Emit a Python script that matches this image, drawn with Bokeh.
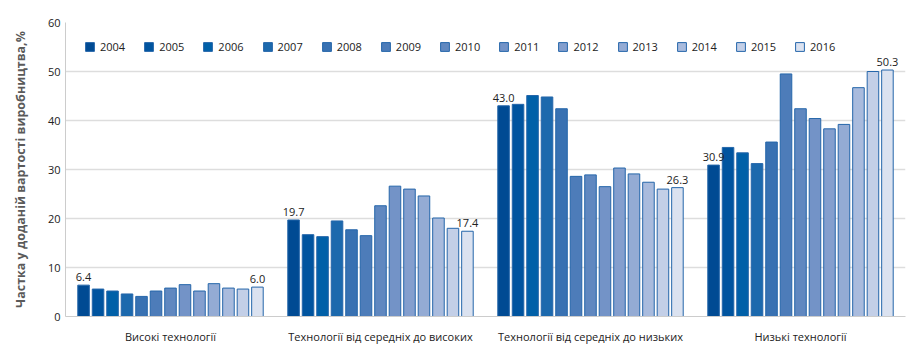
from bokeh.plotting import figure
from bokeh.models import Legend, LegendItem, FixedTicker, ColumnDataSource, Range1d
from bokeh.embed import file_html
from bokeh.resources import INLINE
from bokeh.core.properties import value

groups = ["Високі технології", "Технології від середніх до високих",
          "Технології від середніх до низьких", "Низькі технології"]
years = ["2004", "2005", "2006", "2007", "2008", "2009", "2010",
         "2011", "2012", "2013", "2014", "2015", "2016"]
high_tech = [6.4, 5.6, 5.2, 4.6, 4.1, 5.2, 5.8, 6.5, 5.2, 6.7, 5.8, 5.6, 6.0]
med_high_tech = [19.7, 16.7, 16.3, 19.5, 17.7, 16.5, 22.6, 26.6, 26.0, 24.6, 20.1, 18.0, 17.4]
med_low_tech = [43.0, 43.3, 45.1, 44.8, 42.4, 28.6, 28.9, 26.5, 30.3, 29.1, 27.4, 26.0, 26.3]
low_tech = [30.9, 34.5, 33.4, 31.2, 35.6, 49.5, 42.4, 40.4, 38.3, 39.2, 46.7, 50.0, 50.3]
colors = ["#004a93", "#00549f", "#0060a8", "#1c69ad", "#3871b2", "#4d7cb9", "#6088c0",
          "#7393c7", "#849fce", "#94abd4", "#a9bbdd", "#c3cfe7", "#dbe2f0"]

series = [high_tech, med_high_tech, med_low_tech, low_tech]
FONT = "Open Sans"

p = figure(width=919, height=351, output_backend="svg", toolbar_location=None,
           x_range=Range1d(-0.5, 3.5), y_range=Range1d(0, 60),
           min_border_left=65, min_border_right=14, min_border_top=22, min_border_bottom=35)
p.outline_line_color = None
p.background_fill_color = "white"

pitch = 0.069
bw = 0.055
items = []
for j, yr in enumerate(years):
    xs = [g + (j - 6) * pitch for g in range(4)]
    tops = [s[j] for s in series]
    src = ColumnDataSource(dict(x=xs, top=tops))
    r = p.vbar(x="x", top="top", width=bw, source=src, fill_color=colors[j],
               line_color="#2566aa", line_width=1)
    items.append(LegendItem(label=yr, renderers=[r]))

# value labels for first and last years
lx, ly, lt = [], [], []
for g, s in enumerate(series):
    for j in (0, 12):
        lx.append(g + (j - 6) * pitch)
        ly.append(s[j])
        lt.append(f"{s[j]:.1f}")
p.text(x=lx, y=ly, text=lt, text_align="center", text_baseline="bottom", y_offset=-4,
       text_font=value(FONT), text_font_size="11px", text_color="#222222")

legend = Legend(items=items, orientation="horizontal", location=(19, 262),
                margin=0, padding=6, spacing=18, label_standoff=5,
                glyph_width=11, glyph_height=11,
                label_text_font=FONT, label_text_font_size="11px", label_text_color="#222222",
                background_fill_color="white", background_fill_alpha=1,
                border_line_color=None)
p.add_layout(legend)

p.xaxis.ticker = FixedTicker(ticks=[0, 1, 2, 3])
p.xaxis.major_label_overrides = {i: g for i, g in enumerate(groups)}
p.xaxis.major_tick_line_color = None
p.xaxis.minor_tick_line_color = None
p.xaxis.axis_line_color = "#cccccc"
p.xaxis.major_label_text_font = FONT
p.xaxis.major_label_text_font_size = "11px"
p.xaxis.major_label_text_color = "#222222"
p.xaxis.major_label_standoff = 6
p.xgrid.grid_line_color = None

p.yaxis.ticker = FixedTicker(ticks=[0, 10, 20, 30, 40, 50, 60])
p.yaxis.major_tick_out = 0
p.yaxis.major_tick_in = 0
p.yaxis.minor_tick_line_color = None
p.yaxis.axis_line_color = "#cccccc"
p.yaxis.major_label_text_font = FONT
p.yaxis.major_label_text_font_size = "11px"
p.yaxis.major_label_text_color = "#222222"
p.yaxis.axis_label = "Частка у доданій вартості виробництва,%"
p.yaxis.axis_label_text_font = FONT
p.yaxis.axis_label_text_font_size = "12.5px"
p.yaxis.axis_label_text_font_style = "bold"
p.yaxis.axis_label_text_color = "#5a5a5a"
p.yaxis.axis_label_standoff = 16
p.ygrid.grid_line_color = "#dddddd"
p.ygrid.grid_line_width = 1.5

open("out.html", "w").write(file_html(p, INLINE))
